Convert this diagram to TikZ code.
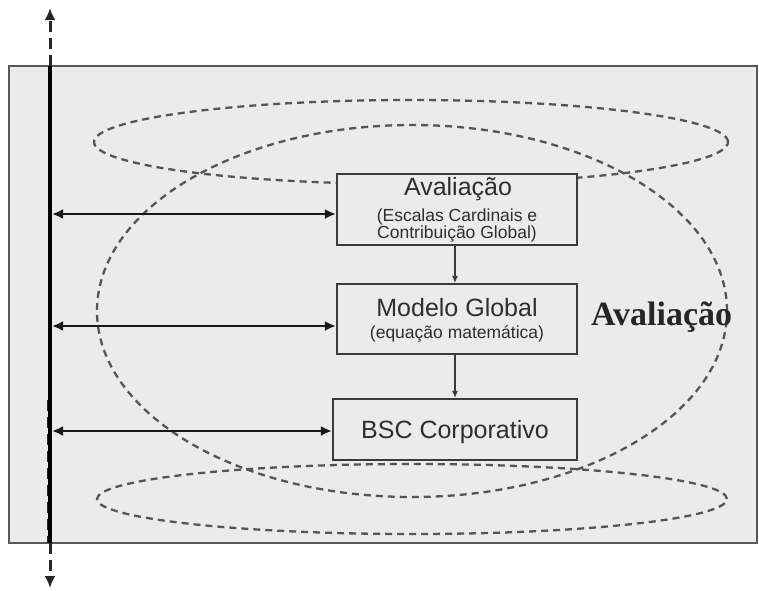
\documentclass[tikz,border=0pt]{standalone}
\usepackage{fontspec}
\setmainfont{Liberation Serif}
\setsansfont{Liberation Sans}
\usetikzlibrary{arrows.meta}
\definecolor{bgray}{HTML}{EBEBEB}
\definecolor{edge}{HTML}{3A3A3A}
\definecolor{dashc}{HTML}{555555}
\definecolor{txt}{HTML}{2E2E2E}
\tikzset{
  panel/.style={fill=bgray,draw=edge!85,line width=2pt},
  ell/.style={draw=dashc,line width=2.3pt,dash pattern=on 7pt off 5pt},
  boxnode/.style={draw=edge,line width=2.2pt,fill=bgray,inner sep=0pt},
  bigtxt/.style={font=\sffamily\fontsize{25}{28}\selectfont,text=txt,inner sep=0pt,anchor=base},
  smalltxt/.style={font=\sffamily\fontsize{17.5}{20}\selectfont,text=txt,inner sep=0pt,anchor=base},
  harrow/.style={line width=2.8pt,draw=black!90,{Latex[length=11pt,width=10pt]}-{Latex[length=11pt,width=10pt]}},
  varrow/.style={line width=1.1pt,draw=edge,-{Latex[length=7pt,width=6pt]}},
  axisdash/.style={line width=3pt,draw=black!85,dash pattern=on 11pt off 6pt},
}
\begin{document}
\begin{tikzpicture}[x=1pt,y=-1pt]
\useasboundingbox (0,0) rectangle (759,590);
% panel
\draw[panel] (9,66) rectangle (757,543);
% ellipses
\draw[ell] (411,142) ellipse [x radius=317pt, y radius=42pt];
\draw[ell] (412,311) ellipse [x radius=315pt, y radius=186pt];
\draw[ell] (412,499) ellipse [x radius=315pt, y radius=35pt];
% axis
\coordinate (atop) at (50,66);
\coordinate (abot) at (50,543);
\coordinate (atip) at (50,8);
\coordinate (btip) at (50,588);
\draw[axisdash,-{Latex[length=12pt,width=11pt]}] (atop) -- (atip);
\draw[axisdash,-{Latex[length=12pt,width=11pt]}] (abot) -- (btip);
\draw[axisdash] (48,400) -- (48,543);
\draw[line width=3.5pt,black] (atop) -- (abot);
% boxes
\node[boxnode,minimum width=240pt,minimum height=71pt] (b1) at (457,209.5) {};
\node[boxnode,minimum width=240pt,minimum height=70pt] (b2) at (457,319) {};
\node[boxnode,minimum width=244pt,minimum height=61pt] (b3) at (455,429.5) {};
% texts
\node[bigtxt] (t1) at (458,195) {Avaliação};
\node[smalltxt] (t1a) at (457,221) {(Escalas Cardinais e};
\node[smalltxt] (t1b) at (457,238) {Contribuição Global)};
\node[bigtxt] (t2) at (457,316) {Modelo Global};
\node[smalltxt] (t2a) at (457,338) {(equação matemática)};
\node[bigtxt] (t3) at (455,438) {BSC Corporativo};
\node[font=\rmfamily\bfseries\fontsize{34}{38}\selectfont,text=black!85,inner sep=0pt,anchor=base west] (lab) at (591,325) {Avaliação};
% vertical arrows
\draw[varrow] (b1.south -| 455,0) -- (b2.north -| 455,0);
\draw[varrow] (b2.south -| 455,0) -- (b3.north -| 455,0);
% horizontal arrows
\coordinate (l1) at (52,214);
\coordinate (l2) at (52,326);
\coordinate (l3) at (52,431);
\draw[harrow] (l1) -- (l1 -| b1.west);
\draw[harrow] (l2) -- (l2 -| b2.west);
\draw[harrow] (l3) -- (l3 -| b3.west);
\end{tikzpicture}
\end{document}
